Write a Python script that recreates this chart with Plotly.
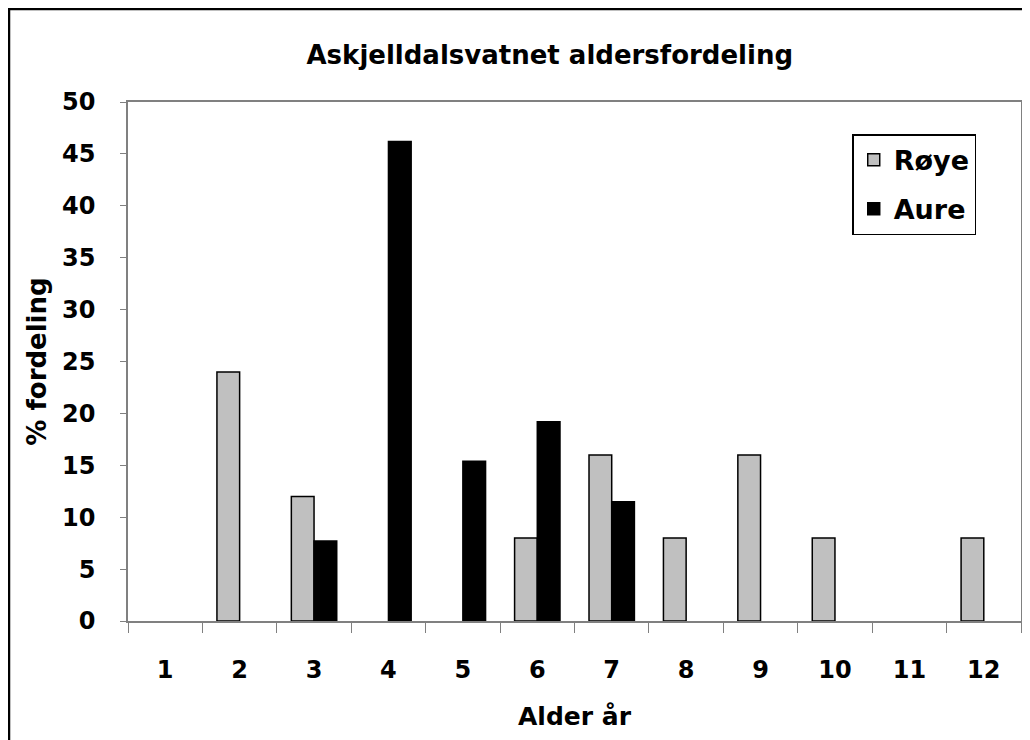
import plotly.graph_objects as go

ages = ["1", "2", "3", "4", "5", "6", "7", "8", "9", "10", "11", "12"]
roye = [0, 24, 12, 0, 0, 8, 16, 8, 16, 8, 0, 8]
aure = [0, 0, 7.7, 46.2, 15.4, 19.2, 11.5, 0, 0, 0, 0, 0]
y_ticks = list(range(0, 51, 5))

FONT = "DejaVu Sans, Arial, sans-serif"

def drawn(vals):
    # zero-height bars are not drawn (no outline line on the axis)
    return [v if v > 0 else None for v in vals]

fig = go.Figure()
fig.add_trace(go.Bar(x=ages, y=drawn(roye), name="Røye", legendgroup="a",
                     marker=dict(color="#C0C0C0", line=dict(color="#000000", width=1.5))))
fig.add_trace(go.Bar(x=ages, y=drawn(aure), name="Aure", legendgroup="b",
                     marker=dict(color="#000000", line=dict(color="#000000", width=1.5))))

fig.update_layout(
    width=1030, height=740,
    margin=dict(l=120, r=17, t=94, b=127),
    paper_bgcolor="white", plot_bgcolor="white",
    barmode="group", bargap=0.39, bargroupgap=0,
    font=dict(family=FONT, color="black"),
    title=dict(text="<b>Askjelldalsvatnet aldersfordeling</b>", x=0.526, xref="container",
               xanchor="center", y=0.936, yanchor="middle", yref="container",
               font=dict(size=26, family=FONT)),
    showlegend=True,
    legend=dict(x=0.811, y=0.938, xanchor="left", yanchor="top",
                bordercolor="black", borderwidth=1.5, bgcolor="white",
                font=dict(size=27, family=FONT, weight="bold"), traceorder="grouped",
                tracegroupgap=11, itemwidth=30),
    xaxis=dict(type="category", tickson="boundaries", ticks="outside", ticklen=10,
               tickcolor="#808080", showline=True, linecolor="#808080", linewidth=1.5,
               mirror=True, showgrid=False,
               tickfont=dict(size=24, family=FONT, weight="bold"), ticklabelstandoff=26,
               title=dict(text="<b>Alder år</b>", font=dict(size=25, family=FONT), standoff=25)),
    yaxis=dict(range=[0, 50], tickvals=y_ticks, ticks="outside", ticklen=6,
               tickcolor="#808080", showline=True, linecolor="#808080", linewidth=1.5,
               mirror=True, showgrid=False, zeroline=False,
               tickfont=dict(size=24, family=FONT, weight="bold"), ticklabelstandoff=20,
               title=dict(text="<b>% fordeling</b>", font=dict(size=26, family=FONT), standoff=8)),
)

fig.add_shape(type="rect", xref="paper", yref="paper",
              x0=(1 - 120) / 893, x1=(1030 - 120) / 893, y0=-0.4, y1=(613 - 1) / 519,
              line=dict(color="black", width=2.5), fillcolor="rgba(0,0,0,0)", layer="above")

fig.write_html("out.html")
